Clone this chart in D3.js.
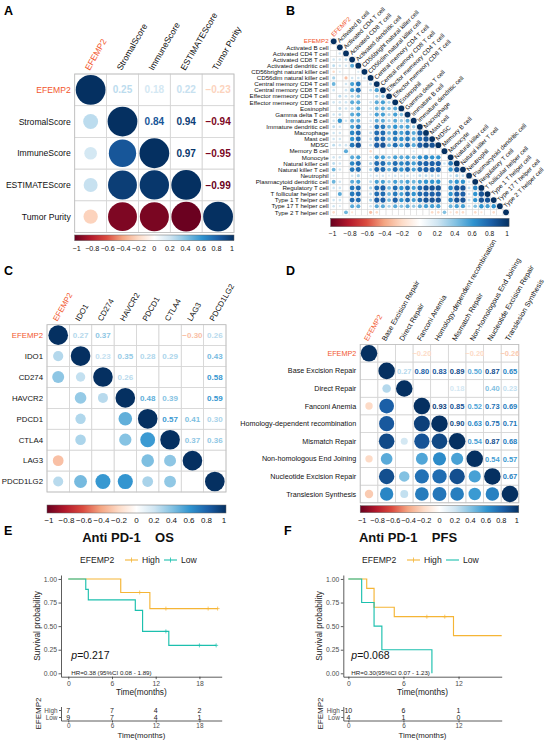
<!DOCTYPE html>
<html>
<head>
<meta charset="utf-8">
<style>
  body { margin: 0; background: #fff; }
  svg { display: block; font-family: Arial, 'Liberation Sans', Helvetica, sans-serif; }
  .km-axis path, .km-axis line { stroke: #333; stroke-width: 0.8px; }
  .km-axis text { font-size: 6.8px; fill: #4d4d4d; font-family: Arial, 'Liberation Sans', sans-serif; }
</style>
</head>
<body>
<svg width="550" height="742"></svg>
<script src="https://d3js.org/d3.v7.min.js"></script>
<script>
// ---------------- data ----------------
const estLabels = ["EFEMP2", "StromalScore", "ImmuneScore", "ESTIMATEScore", "Tumor Purity"];
// upper triangle, row by row (null = not significant)
const estUpper = [
  [0.25, 0.18, 0.22, -0.23],
  [0.84, 0.94, -0.94],
  [0.97, -0.95],
  [-0.99]
];

const icLabels = ["EFEMP2", "IDO1", "CD274", "HAVCR2", "PDCD1", "CTLA4", "LAG3", "PDCD1LG2"];
const icUpper = [
  [0.27, 0.37, null, null, null, -0.30, 0.26],
  [0.23, 0.35, 0.28, 0.29, null, 0.43],
  [0.26, null, null, null, 0.58],
  [0.48, 0.39, null, 0.59],
  [0.57, 0.41, 0.30],
  [0.37, 0.36],
  [null]
];

const repLabels = ["EFEMP2", "Base Excision Repair", "Direct Repair", "Fanconi Anemia",
  "Homology-dependent recombination", "Mismatch Repair", "Non-homologous End Joining",
  "Nucleotide Excision Repair", "Translesion Synthesis"];
const repUpper = [
  [null, null, -0.20, null, null, -0.20, null, -0.26],
  [0.27, 0.80, 0.83, 0.89, 0.50, 0.87, 0.65],
  [null, null, 0.18, null, 0.40, 0.23],
  [0.93, 0.85, 0.52, 0.73, 0.69],
  [0.90, 0.63, 0.75, 0.71],
  [0.54, 0.87, 0.68],
  [0.54, 0.57],
  [0.67]
];

const cellLabels = ["EFEMP2", "Activated B cell", "Activated CD4 T cell", "Activated CD8 T cell",
  "Activated dendritic cell", "CD56bright natural killer cell", "CD56dim natural killer cell",
  "Central memory CD4 T cell", "Central memory CD8 T cell", "Effector memeory CD4 T cell",
  "Effector memeory CD8 T cell", "Eosinophil", "Gamma delta T cell", "Immature  B cell",
  "Immature dendritic cell", "Macrophage", "Mast cell", "MDSC", "Memory B cell", "Monocyte",
  "Natural killer cell", "Natural killer T cell", "Neutrophil", "Plasmacytoid dendritic cell",
  "Regulatory T cell", "T follicular helper cell", "Type 1 T helper cell",
  "Type 17 T helper cell", "Type 2 T helper cell"];
// lower triangle, row by row (0 = not significant)
const cellLower = [
  [],
  [0],
  [0, 0.2],
  [0.2, 0.2, 0.25],
  [0.25, 0.2, 0.2, 0.5],
  [-0.2, 0.15, 0, 0, 0.15],
  [0.3, 0, -0.3, 0.2, 0.2, 0.2],
  [0.45, 0, 0.2, 0.55, 0.7, 0, 0.25],
  [0.2, 0, 0.2, 0.55, 0.75, 0, 0.25, 0.55],
  [0, 0.25, 0.2, 0.3, 0.4, 0, 0, 0.3, 0.35],
  [0.2, 0.2, 0.2, 0.5, 0.5, 0, 0.2, 0.5, 0.55, 0.3],
  [0, 0.25, 0.2, 0.3, 0.5, 0, 0.2, 0.45, 0.5, 0.4, 0.5],
  [0.2, 0.25, 0, 0.5, 0.55, 0, 0.2, 0.55, 0.55, 0.3, 0.55, 0.4],
  [0.2, 0.6, 0.2, 0.5, 0.5, 0, 0.2, 0.5, 0.5, 0.3, 0.5, 0.35, 0.5],
  [0.25, 0.2, 0, 0.55, 0.7, 0, 0.2, 0.7, 0.7, 0.45, 0.6, 0.5, 0.55, 0.35],
  [0.2, 0.2, 0, 0.65, 0.75, 0, 0.25, 0.75, 0.75, 0.45, 0.7, 0.55, 0.7, 0.5, 0.8],
  [0.2, 0.2, 0, 0.6, 0.75, 0, 0.25, 0.75, 0.75, 0.45, 0.7, 0.6, 0.7, 0.5, 0.75, 0.85],
  [0.25, 0.2, 0.2, 0.7, 0.85, 0, 0.25, 0.8, 0.85, 0.45, 0.75, 0.55, 0.75, 0.5, 0.8, 0.9, 0.85],
  [0, 0, 0.5, 0, 0, 0, -0.2, 0, 0, 0, 0, 0, 0, 0.15, 0, 0, 0, 0],
  [0.2, 0.2, 0, 0.5, 0.55, 0, 0.2, 0.55, 0.55, 0.35, 0.55, 0.5, 0.55, 0.45, 0.6, 0.65, 0.6, 0.6, 0],
  [0.25, 0.2, 0, 0.65, 0.75, 0, 0.3, 0.75, 0.75, 0.5, 0.75, 0.65, 0.7, 0.55, 0.75, 0.8, 0.8, 0.8, 0.2, 0.7],
  [0.45, 0.2, 0, 0.7, 0.75, 0, 0.3, 0.75, 0.75, 0.45, 0.75, 0.6, 0.75, 0.55, 0.75, 0.8, 0.8, 0.8, 0, 0.6, 0.85],
  [0.15, 0, 0, 0.2, 0.3, 0, 0.15, 0.2, 0.2, 0.15, 0.2, 0.2, 0.2, 0.15, 0.25, 0.25, 0.25, 0.25, 0, 0.2, 0.3, 0.25],
  [0.45, 0.2, 0, 0.5, 0.55, 0, 0.25, 0.55, 0.55, 0.35, 0.55, 0.45, 0.55, 0.45, 0.55, 0.6, 0.6, 0.6, 0, 0.5, 0.6, 0.6, 0.2],
  [0.2, 0.2, 0, 0.7, 0.75, 0, 0.3, 0.75, 0.8, 0.45, 0.75, 0.6, 0.75, 0.55, 0.75, 0.85, 0.85, 0.85, 0, 0.65, 0.85, 0.85, 0.25, 0.65],
  [0, 0.5, 0, 0.7, 0.75, 0, 0.25, 0.75, 0.75, 0.45, 0.7, 0.55, 0.75, 0.6, 0.75, 0.8, 0.8, 0.8, 0, 0.6, 0.8, 0.8, 0.2, 0.6, 0.85],
  [0.2, 0.2, 0, 0.75, 0.75, 0, 0.3, 0.8, 0.8, 0.45, 0.8, 0.6, 0.75, 0.55, 0.75, 0.85, 0.85, 0.85, 0, 0.65, 0.85, 0.85, 0.25, 0.6, 0.85, 0.85],
  [0.2, 0.15, 0, 0.5, 0.5, 0, 0.2, 0.5, 0.5, 0.3, 0.5, 0.4, 0.5, 0.35, 0.5, 0.55, 0.55, 0.55, 0, 0.45, 0.55, 0.55, 0.2, 0.4, 0.6, 0.55, 0.6],
  [-0.2, 0, 0.45, -0.15, 0, 0, -0.3, -0.2, 0, 0, 0, 0, 0, 0, 0, 0, -0.2, -0.2, 0.4, -0.15, -0.2, -0.2, 0, -0.2, -0.15, 0, -0.2, 0]
];

const barTicks = [-1, -0.8, -0.6, -0.4, -0.2, 0, 0.2, 0.4, 0.6, 0.8, 1];
const palStops = ["#67001F", "#B2182B", "#DA4B3F", "#F4A582", "#FDDBC7", "#FFFFFF",
  "#CFE5F2", "#82C1E2", "#2F93CF", "#1B5FA7", "#053061"];

// survival curves (step times / survival), censor times
const groups = ["High", "Low"];
const osHighT = [0, 7.2, 11.2], osHighS = [1, 0.857, 0.686], osHighEnd = 20.5, osHighCens = [9.8, 13.4, 19.2, 20.5];
const osLowT = [0, 2.4, 2.75, 9.2, 10.2, 13.8], osLowS = [1, 0.889, 0.778, 0.667, 0.444, 0.296], osLowEnd = 20.3, osLowCens = [13.4, 18.0, 20.3];
const pfsHighT = [0, 2.0, 2.8, 5.0, 11.45], pfsHighS = [1, 0.9, 0.7, 0.6, 0.4], pfsHighEnd = 16.7, pfsHighCens = [8.55, 10.5];
const pfsLowT = [0, 1.45, 2.8, 3.65, 9.1], pfsLowS = [1, 0.75, 0.5, 0.25, 0], pfsLowEnd = 9.1, pfsLowCens = [];
const osRiskTimes = [0, 6, 12, 18], osRiskHigh = [7, 7, 4, 2], osRiskLow = [9, 7, 4, 1];
const pfsRiskTimes = [0, 6, 12], pfsRiskHigh = [10, 6, 1], pfsRiskLow = [4, 1, 0];
const survTicks = [0, 0.25, 0.5, 0.75, 1];

// ---------------- helpers ----------------
const svg = d3.select("svg");
const color = d3.scaleLinear().domain(barTicks).range(palStops).clamp(true);
const hiCol = "#F2572D";
const colHigh = "#F5B536", colLow = "#1CC0AE";
const fmt2 = d3.format(".2f");
const fmtTick = v => v === 0 ? "0" : (v < 0 ? "\u2212" : "") + Math.abs(v);

function fromUpper(up) {
  const n = up.length + 1;
  const m = d3.range(n).map(() => d3.range(n).map(() => null));
  for (let i = 0; i < n; i++) {
    m[i][i] = 1;
    for (let j = i + 1; j < n; j++) { m[i][j] = up[i][j - i - 1]; m[j][i] = up[i][j - i - 1]; }
  }
  return m;
}
function fromLower(lo) {
  const n = lo.length;
  const m = d3.range(n).map(() => d3.range(n).map(() => null));
  for (let i = 0; i < n; i++) {
    m[i][i] = 1;
    for (let j = 0; j < i; j++) { m[i][j] = lo[i][j] || null; }
  }
  return m;
}

let gradId = 0;
function drawCorr(o) {
  const g = svg.append("g");
  const n = o.labels.length;
  const x = d3.scaleBand().domain(d3.range(n)).range([o.left, o.right]);
  const y = d3.scaleBand().domain(d3.range(n)).range([o.top, o.bottom]);
  const bw = x.bandwidth(), bh = y.bandwidth();
  const cells = [];
  for (let i = 0; i < n; i++) for (let j = 0; j < n; j++) {
    if (o.lower && j > i) continue;
    cells.push({ i, j, v: o.m[i][j] });
  }
  g.selectAll("rect.cell").data(cells).join("rect").attr("class", "cell")
    .attr("x", d => x(d.j)).attr("y", d => y(d.i))
    .attr("width", bw).attr("height", bh)
    .attr("fill", "none").attr("stroke", "#d6d6d6").attr("stroke-width", o.lower ? 0.4 : 0.7);
  if (!o.lower) {
    g.append("rect").attr("x", o.left).attr("y", o.top)
      .attr("width", o.right - o.left).attr("height", o.bottom - o.top)
      .attr("fill", "none").attr("stroke", "#bdbdbd").attr("stroke-width", 0.8);
  }
  const rMax = Math.min(bw, bh) / 2 * 0.94;
  g.selectAll("circle").data(cells.filter(d => d.j <= d.i && d.v)).join("circle")
    .attr("cx", d => x(d.j) + bw / 2).attr("cy", d => y(d.i) + bh / 2)
    .attr("r", d => rMax * Math.sqrt(Math.abs(d.v)))
    .attr("fill", d => color(d.v));
  if (!o.lower) {
    g.selectAll("text.num").data(cells.filter(d => d.j > d.i && d.v != null)).join("text")
      .attr("class", "num")
      .attr("x", d => x(d.j) + bw / 2).attr("y", d => y(d.i) + bh / 2)
      .attr("dy", "0.36em").attr("text-anchor", "middle")
      .style("font-size", o.numFont + "px").style("font-weight", "bold")
      .attr("fill", d => color(d.v))
      .text(d => fmt2(d.v));
  }
  // row labels
  g.selectAll("text.rowlab").data(o.labels).join("text").attr("class", "rowlab")
    .attr("x", o.left - o.rowPad).attr("y", (d, i) => y(i) + bh / 2)
    .attr("dy", "0.36em").attr("text-anchor", "end")
    .style("font-size", o.rowFont + "px")
    .attr("fill", (d, i) => i === 0 ? hiCol : "#111")
    .text(d => d);
  // column labels
  g.selectAll("text.collab").data(o.labels).join("text").attr("class", "collab")
    .attr("transform", (d, i) => {
      const cx = x(i) + bw / 2 + o.colDx;
      const cy = o.lower ? y(i) - 1.2 : o.top - 3;
      return `translate(${cx},${cy}) rotate(${o.colAngle})`;
    })
    .attr("text-anchor", "start")
    .style("font-size", o.colFont + "px")
    .attr("fill", (d, i) => i === 0 ? hiCol : "#111")
    .text(d => d);
  // colour bar
  const id = "grad" + (gradId++);
  const grad = svg.append("defs").append("linearGradient").attr("id", id);
  grad.selectAll("stop").data(barTicks).join("stop")
    .attr("offset", (d, i) => (i / (barTicks.length - 1) * 100) + "%")
    .attr("stop-color", d => color(d));
  g.append("rect").attr("x", o.left).attr("y", o.barY)
    .attr("width", o.right - o.left).attr("height", o.barH)
    .attr("fill", `url(#${id})`).attr("stroke", "#666").attr("stroke-width", 0.5);
  const bx = d3.scaleLinear().domain([-1, 1]).range([o.left + o.barInset, o.right - o.barInset]);
  g.selectAll("text.btick").data(barTicks).join("text").attr("class", "btick")
    .attr("x", d => bx(d)).attr("y", o.tickY).attr("text-anchor", "middle")
    .style("font-size", o.tickFont + "px").attr("fill", "#111")
    .text(fmtTick);
}

function panelLetter(t, x, y) {
  svg.append("text").attr("x", x).attr("y", y).style("font-size", "12.5px")
    .style("font-weight", "bold").attr("fill", "#000").text(t);
}

function survAt(T, S, t) {
  let s = S[0];
  T.forEach((tt, k) => { if (tt <= t) s = S[k]; });
  return s;
}

function drawKM(o) {
  const g = svg.append("g");
  const x = d3.scaleLinear().domain(o.xDom).range([o.left, o.right]);
  const y = d3.scaleLinear().domain([-0.036, 1.042]).range([o.bottom, o.top]);

  // title
  g.append("text").attr("x", o.titleX).attr("y", o.titleY).attr("text-anchor", "middle")
    .style("font-size", "13px").style("font-weight", "bold").style("white-space", "pre")
    .attr("fill", "#111").text(o.title);

  // legend
  const lg = g.append("g").attr("transform", `translate(${o.legX},${o.legY})`);
  lg.append("text").attr("x", 0).attr("y", 0).style("font-size", "8.6px").attr("fill", "#222").text("EFEMP2");
  const keys = [{ c: colHigh, t: "High", x0: 45, cross: true }, { c: colLow, t: "Low", x0: 84, cross: o.legLowCross }];
  keys.forEach(k => {
    lg.append("line").attr("x1", k.x0).attr("x2", k.x0 + 13).attr("y1", -3).attr("y2", -3)
      .attr("stroke", k.c).attr("stroke-width", 1.1);
    if (k.cross) lg.append("line").attr("x1", k.x0 + 6.5).attr("x2", k.x0 + 6.5).attr("y1", -5.5).attr("y2", -0.5)
      .attr("stroke", k.c).attr("stroke-width", 0.8);
    lg.append("text").attr("x", k.x0 + 17).attr("y", 0).style("font-size", "8.6px").attr("fill", "#222").text(k.t);
  });

  // axes
  g.append("g").attr("class", "km-axis").attr("transform", `translate(0,${o.bottom})`)
    .call(d3.axisBottom(x).tickValues(o.xTicks).tickSize(2.5).tickSizeOuter(0).tickPadding(1.5));
  g.append("g").attr("class", "km-axis").attr("transform", `translate(${o.left},0)`)
    .call(d3.axisLeft(y).tickValues(survTicks).tickFormat(fmt2).tickSize(2.5).tickSizeOuter(0).tickPadding(1.5));
  g.append("text").attr("transform", `translate(${o.left - 21},${(o.top + o.bottom) / 2}) rotate(-90)`)
    .attr("text-anchor", "middle").style("font-size", "8.3px").attr("fill", "#222").text("Survival probability");
  g.append("text").attr("x", (o.left + o.right) / 2).attr("y", o.bottom + 18)
    .attr("text-anchor", "middle").style("font-size", "8.3px").attr("fill", "#222").text("Time(months)");

  // curves
  const line = d3.line().x(d => x(d[0])).y(d => y(d[1])).curve(d3.curveStepAfter);
  o.curves.forEach(c => {
    const pts = c.T.map((t, k) => [t, c.S[k]]).concat([[c.end, c.S[c.S.length - 1]]]);
    g.append("path").attr("d", line(pts)).attr("fill", "none")
      .attr("stroke", c.color).attr("stroke-width", 1.15);
    g.selectAll(null).data(c.cens).join("path")
      .attr("transform", t => `translate(${x(t)},${y(survAt(c.T, c.S, t))})`)
      .attr("d", "M-2,0H2M0,-2V2").attr("stroke", c.color).attr("stroke-width", 0.7);
  });

  // p value + HR
  const pt = g.append("text").attr("x", x(0) + 3).attr("y", y(0.15)).style("font-size", "10.5px").attr("fill", "#111");
  pt.append("tspan").style("font-style", "italic").text("p");
  pt.append("tspan").text("=" + o.p);
  g.append("text").attr("x", x(0) + 3).attr("y", y(-0.02)).style("font-size", "6.2px").attr("fill", "#222").text(o.hr);

  // risk table
  const ry = d3.scalePoint().domain(groups).range([o.riskTop, o.riskTop + 14]).padding(0.5);
  const ax = g.append("g").attr("class", "km-axis").attr("transform", `translate(${o.left},0)`)
    .call(d3.axisLeft(ry).tickSize(2).tickSizeOuter(0).tickPadding(1.5));
  ax.selectAll("text").style("font-size", "6.4px").attr("fill", d => d === "High" ? colHigh : colLow);
  const rows = [{ k: "High", v: o.riskHigh }, { k: "Low", v: o.riskLow }];
  rows.forEach(r => {
    g.selectAll(null).data(r.v).join("text")
      .attr("x", (d, i) => x(o.riskTimes[i])).attr("y", ry(r.k)).attr("dy", "0.36em")
      .attr("text-anchor", "middle").style("font-size", "7px").attr("fill", "#222").text(d => d);
  });
  const bx = g.append("g").attr("class", "km-axis").attr("transform", `translate(0,${o.riskTop + 14})`)
    .call(d3.axisBottom(x).tickValues(o.xTicks).tickSize(2).tickSizeOuter(0).tickPadding(0.5));
  bx.selectAll("text").style("font-size", "6.4px");
  g.append("text").attr("x", (o.left + o.right) / 2).attr("y", o.riskTop + 31)
    .attr("text-anchor", "middle").style("font-size", "7.8px").attr("fill", "#222").text("Time(months)");
  g.append("text").attr("transform", `translate(${o.left - 20},${o.riskTop + 7}) rotate(-90)`)
    .attr("text-anchor", "middle").style("font-size", "8px").attr("fill", "#222").text("EFEMP2");
}

// ---------------- panels ----------------
panelLetter("A", 4, 15);
drawCorr({
  labels: estLabels, m: fromUpper(estUpper), lower: false,
  left: 74.7, right: 234, top: 74, bottom: 232.5,
  rowFont: 8.6, colFont: 8.6, numFont: 10, rowPad: 4, colDx: -1, colAngle: -60,
  barY: 235, barH: 5.7, barInset: 2, tickY: 250.5, tickFont: 7.2
});

panelLetter("B", 286, 15);
drawCorr({
  labels: cellLabels, m: fromLower(cellLower), lower: true,
  left: 330.6, right: 509.1, top: 38.2, bottom: 215.4,
  rowFont: 6.2, colFont: 6.2, rowPad: 2, colDx: 0, colAngle: -45,
  barY: 218.3, barH: 8.4, barInset: 2, tickY: 236, tickFont: 6.6
});

panelLetter("C", 4, 275);
drawCorr({
  labels: icLabels, m: fromUpper(icUpper), lower: false,
  left: 47, right: 226, top: 324.7, bottom: 492,
  rowFont: 7.8, colFont: 7.8, numFont: 8, rowPad: 4, colDx: -1, colAngle: -60,
  barY: 505, barH: 8, barInset: 2, tickY: 523, tickFont: 8
});

panelLetter("D", 286, 275);
drawCorr({
  labels: repLabels, m: fromUpper(repUpper), lower: false,
  left: 360.2, right: 518.8, top: 344.5, bottom: 502.8,
  rowFont: 7.2, colFont: 7.2, numFont: 7.5, rowPad: 4, colDx: -1, colAngle: -60,
  barY: 505.7, barH: 7, barInset: 2, tickY: 523, tickFont: 7.4
});

panelLetter("E", 4, 535);
drawKM({
  title: "Anti PD-1    OS", titleX: 128, titleY: 542, legX: 80, legY: 563, legLowCross: true,
  left: 61, right: 221.7, top: 575, bottom: 676.7, xDom: [-1, 21.06], xTicks: [0, 6, 12, 18],
  curves: [
    { T: osHighT, S: osHighS, end: osHighEnd, cens: osHighCens, color: colHigh },
    { T: osLowT, S: osLowS, end: osLowEnd, cens: osLowCens, color: colLow }
  ],
  p: "0.217", hr: "HR=0.38 (95%CI 0.08 - 1.89)",
  riskTop: 706.5, riskTimes: osRiskTimes, riskHigh: osRiskHigh, riskLow: osRiskLow
});

panelLetter("F", 284, 535);
drawKM({
  title: "Anti PD-1    PFS", titleX: 408, titleY: 542, legX: 362, legY: 563, legLowCross: false,
  left: 343.3, right: 501.7, top: 575, bottom: 676.7, xDom: [-0.55, 16.7], xTicks: [0, 6, 12],
  curves: [
    { T: pfsHighT, S: pfsHighS, end: pfsHighEnd, cens: pfsHighCens, color: colHigh },
    { T: pfsLowT, S: pfsLowS, end: pfsLowEnd, cens: pfsLowCens, color: colLow }
  ],
  p: "0.068", hr: "HR=0.30(95%CI 0.07 - 1.23)",
  riskTop: 706.5, riskTimes: pfsRiskTimes, riskHigh: pfsRiskHigh, riskLow: pfsRiskLow
});
</script>
</body>
</html>
